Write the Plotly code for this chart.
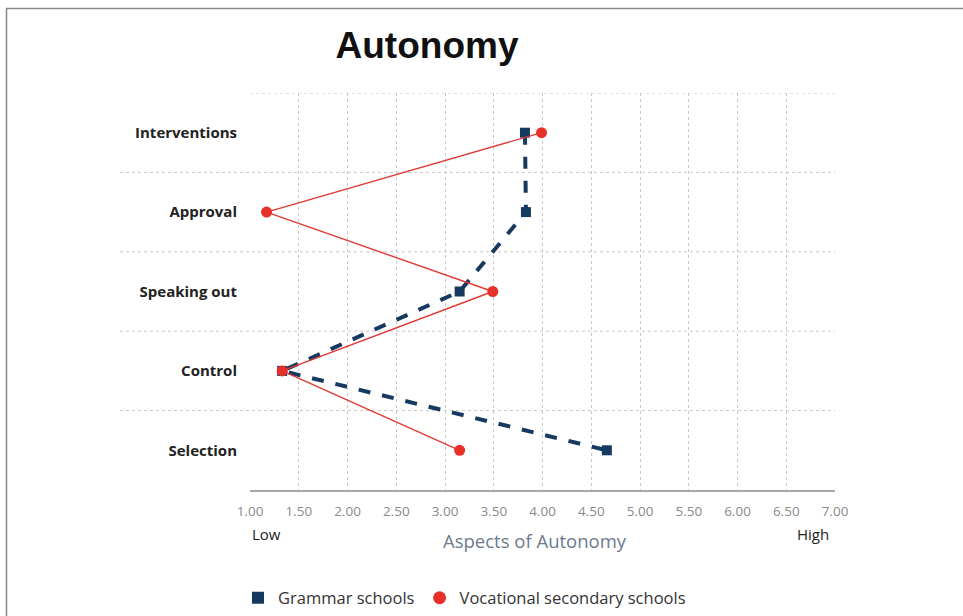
import plotly.graph_objects as go

categories = ["Interventions", "Approval", "Speaking out", "Control", "Selection"]
grammar = [3.82, 3.83, 3.15, 1.33, 4.66]
vocational = [3.99, 1.17, 3.49, 1.33, 3.15]
x_ticks = [1.0, 1.5, 2.0, 2.5, 3.0, 3.5, 4.0, 4.5, 5.0, 5.5, 6.0, 6.5, 7.0]
series_names = ["Grammar schools", "Vocational secondary schools"]

W, H = 963, 616
L, R, T, B = 250, 128, 93, 126
PW, PH = W - L - R, H - T - B
FONT = "Open Sans"
NAVY = "#163a5f"
RED = "#e8302a"

fig = go.Figure()
fig.add_trace(go.Scatter(
    x=grammar, y=list(range(len(categories))), name=series_names[0],
    mode="lines+markers", showlegend=False,
    line=dict(color=NAVY, width=4, dash="dash"),
    marker=dict(symbol="square", size=10, color=NAVY),
))
fig.add_trace(go.Scatter(
    x=vocational, y=list(range(len(categories))), name=series_names[1],
    mode="lines+markers", showlegend=False,
    line=dict(color="#e03a33", width=1.4),
    marker=dict(symbol="circle", size=11, color=RED),
))
# legend entries (marker only)
fig.add_trace(go.Scatter(x=[None], y=[None], name=series_names[0], mode="markers",
                         marker=dict(symbol="square", size=12, color=NAVY)))
fig.add_trace(go.Scatter(x=[None], y=[None], name=series_names[1], mode="markers",
                         marker=dict(symbol="circle", size=13, color=RED)))


def px_x(px):
    return (px - L) / PW


def px_y(py):
    return (H - B - py) / PH


shapes = []
for i in range(len(categories) - 1):
    y = i + 0.5
    shapes.append(dict(type="line", xref="paper", yref="y",
                       x0=px_x(120), x1=1, y0=y, y1=y,
                       line=dict(color="#c8c8c8", width=1, dash="dot"), layer="below"))
shapes.append(dict(type="line", xref="paper", yref="y", x0=0, x1=1, y0=-0.5, y1=-0.5,
                   line=dict(color="#c8c8c8", width=1, dash="dot"), layer="below"))
# frame border (top and left)
shapes.append(dict(type="line", xref="paper", yref="paper",
                   x0=px_x(6), x1=px_x(975), y0=px_y(8.5), y1=px_y(8.5),
                   line=dict(color="#888888", width=1.5)))
shapes.append(dict(type="line", xref="paper", yref="paper",
                   x0=px_x(6.5), x1=px_x(6.5), y0=px_y(8.5), y1=px_y(640),
                   line=dict(color="#888888", width=1.5)))

fig.update_layout(
    width=W, height=H,
    margin=dict(l=L, r=R, t=T, b=B),
    paper_bgcolor="white", plot_bgcolor="white",
    font=dict(family=FONT, color="#333333"),
    title=dict(text="<b>Autonomy</b>", x=427 / W, xanchor="center",
               y=1 - 45 / H, yanchor="middle", xref="container", yref="container",
               font=dict(family="Liberation Sans", size=37, color="#111111")),
    xaxis=dict(range=[1, 7], tickvals=x_ticks, tickformat=".2f",
               showgrid=True, gridcolor="#c8c8c8", griddash="dot", gridwidth=1,
               showline=True, linecolor="#a9a9a9", linewidth=1.5,
               zeroline=False, ticks="", ticklen=0, ticklabelstandoff=8,
               tickfont=dict(size=13.5, color="#8a8a8a", family=FONT)),
    yaxis=dict(range=[len(categories) - 0.5, -0.5],
               tickvals=list(range(len(categories))),
               ticktext=[f"<b>{c}</b>" for c in categories],
               showgrid=False, zeroline=False, showline=False, ticks="",
               ticklabelstandoff=12,
               tickfont=dict(size=15, color="#222222", family=FONT)),
    shapes=shapes,
    showlegend=True,
    legend=dict(orientation="h", xref="container", yref="container",
                x=238 / W, xanchor="left", y=1 - 598 / H, yanchor="middle",
                font=dict(size=16.5, color="#333333", family=FONT),
                itemwidth=30, tracegroupgap=0, itemclick=False),
    annotations=[
        dict(text="Low", xref="paper", yref="paper", x=0, y=px_y(534),
             xanchor="left", yanchor="middle", showarrow=False,
             font=dict(size=15, color="#222222", family=FONT)),
        dict(text="High", xref="paper", yref="paper", x=px_x(831), y=px_y(534),
             xanchor="right", yanchor="middle", showarrow=False,
             font=dict(size=15, color="#222222", family=FONT)),
        dict(text="Aspects of Autonomy", xref="paper", yref="paper", x=px_x(535), y=px_y(540),
             xanchor="center", yanchor="middle", showarrow=False,
             font=dict(size=18.5, color="#6e7b8e", family=FONT)),
    ],
)

fig.write_html(
    "out.html",
    config={"displayModeBar": False},
    post_script="document.body.style.margin='0';document.body.style.overflow='hidden';",
)
